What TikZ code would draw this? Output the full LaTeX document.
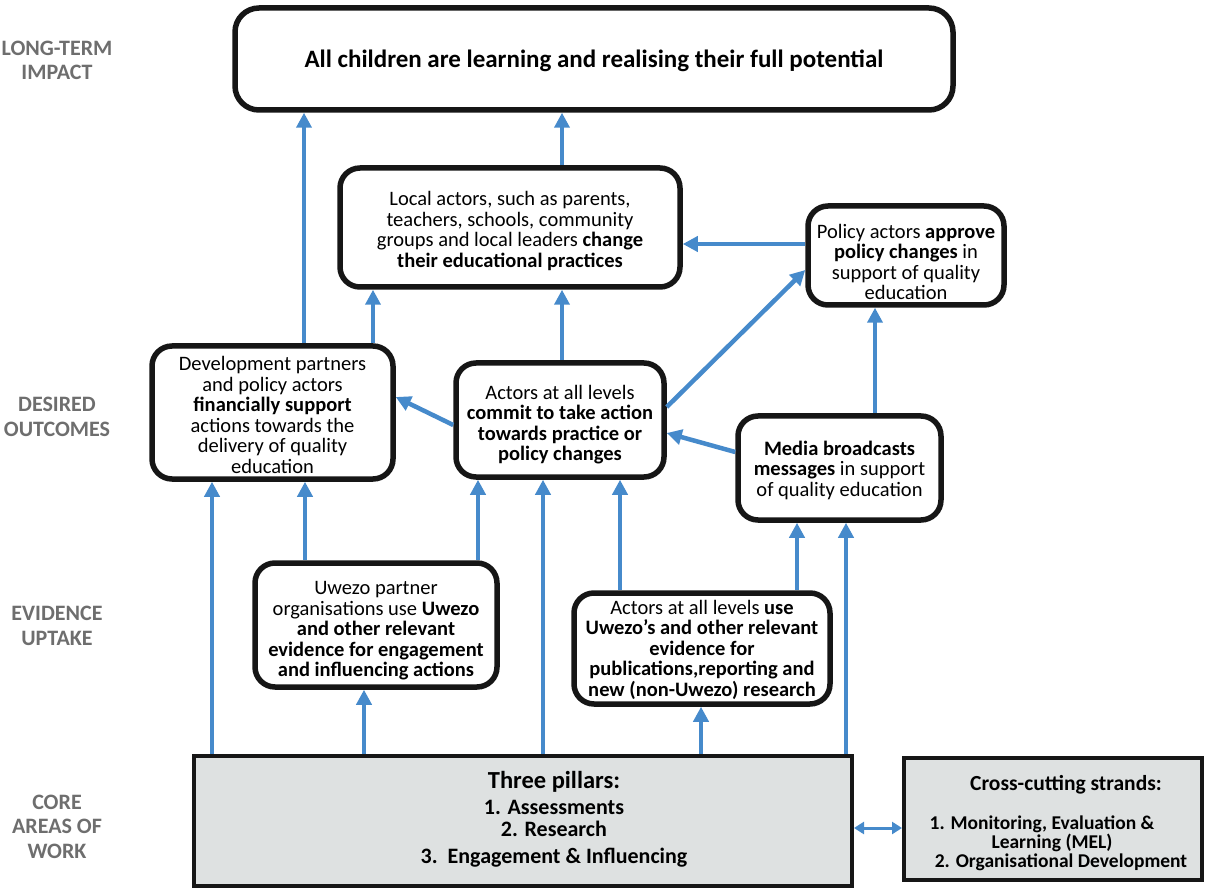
\documentclass[tikz,border=0pt]{standalone}
\usepackage{fontspec}
\setmainfont{Carlito}
\usetikzlibrary{arrows.meta}
\definecolor{arrblue}{RGB}{70,138,203}
\definecolor{pillarfill}{RGB}{222,225,225}
\definecolor{labelgray}{RGB}{110,110,110}
\definecolor{boxline}{RGB}{22,22,22}
% invisible strut on a first line: pushes the text block down by about #1 pt
\newcommand{\topgap}[1]{\rule{0pt}{\dimexpr 15pt+#1pt*2\relax}}
\begin{document}
\begin{tikzpicture}[x=1pt,y=-1pt,
  rbox/.style={draw=boxline, line width=5.5pt, rounded corners=20pt, fill=white, align=center, inner sep=0pt, font=\fontsize{20.5}{20.5}\selectfont},
  sqbox/.style={draw=boxline, line width=4pt, fill=pillarfill, inner sep=0pt},
  lvl/.style={text=labelgray, font=\fontsize{22}{24.5}\selectfont\bfseries, align=center, anchor=base},
  arr/.style={draw=arrblue, line width=4.5pt, -{Triangle[width=15pt,length=15pt]}},
  dblarr/.style={draw=arrblue, line width=3pt, {Triangle[width=12pt,length=10pt]}-{Triangle[width=12pt,length=10pt]}}
]
\useasboundingbox (0,0) rectangle (1205,890);

% level labels (anchored at the baseline of the last line)
\node[lvl] (lblimpact) at (57,80) {LONG-TERM\\IMPACT};
\node[lvl] (lbloutcomes) at (57,436) {DESIRED\\OUTCOMES};
\node[lvl] (lbluptake) at (57,645) {EVIDENCE\\UPTAKE};
\node[lvl] (lblcore) at (57,858) {CORE\\AREAS OF\\WORK};

% boxes
\node[rbox, rounded corners=24pt, minimum width=718pt, minimum height=102pt,
      font=\fontsize{25}{28}\selectfont\bfseries] (top) at (594,59)
  {\rule{0pt}{22pt}All children are learning and realising their full potential};

\node[rbox, minimum width=340pt, minimum height=119pt] (local) at (510,227.5)
  {\topgap{3}Local actors, such as parents,\\ teachers, schools, community\\ groups and local leaders \textbf{change}\\ \textbf{their educational practices}};

\node[rbox, minimum width=196pt, minimum height=99pt] (policy) at (906,255.5)
  {\topgap{6}Policy actors \textbf{approve}\\ \textbf{policy changes} in\\ support of quality\\ education};

\node[rbox, minimum width=241pt, minimum height=133pt] (dev) at (272.5,412.5)
  {\topgap{2}Development partners\\ and policy actors\\ \textbf{financially support}\\ actions towards the\\ delivery of quality\\ education};

\node[rbox, minimum width=208pt, minimum height=114pt] (commit) at (560,420)
  {\topgap{4}Actors at all levels\\ \textbf{commit to take action}\\ \textbf{towards practice or}\\ \textbf{policy changes}};

\node[rbox, minimum width=203pt, minimum height=104pt] (media) at (839.5,468)
  {\topgap{2}\textbf{Media broadcasts}\\ \textbf{messages} in support\\ of quality education};

\node[rbox, minimum width=242pt, minimum height=124pt] (uwezo) at (376,625)
  {\topgap{5}Uwezo partner\\ organisations use \textbf{Uwezo}\\ \textbf{and other relevant}\\ \textbf{evidence for engagement}\\ \textbf{and influencing actions}};

\node[rbox, minimum width=256pt, minimum height=111pt] (actuse) at (702,648.5)
  {\topgap{1}Actors at all levels \textbf{use}\\ \textbf{Uwezo’s and other relevant}\\ \textbf{evidence for}\\ \textbf{publications,reporting and}\\ \textbf{new (non-Uwezo) research}};

\node[sqbox, minimum width=658pt, minimum height=130pt] (pillars) at (523,821) {};
\node[font=\fontsize{22}{22}\selectfont\bfseries, align=center, anchor=base, inner sep=0pt] (pillarstext) at (554,863)
  {{\fontsize{24.5}{22}\selectfont Three pillars:}\\[4pt] 1. Assessments\\ 2. Research\\[5pt] 3.\ \ Engagement \& Influencing};

\node[sqbox, minimum width=298pt, minimum height=122pt] (cross) at (1053,819) {};
\node[font=\fontsize{19.5}{19}\selectfont\bfseries, align=center, anchor=base, inner sep=0pt] (crosstext) at (1052,867)
  {{\fontsize{21.5}{19}\selectfont\hspace*{28pt}Cross-cutting strands:}\\[20pt]
   \hspace*{-20pt}1. Monitoring, Evaluation \&\\ Learning (MEL)\\ \hspace*{18pt}2. Organisational Development};

% connectors
\draw[arr] ([xshift=31.5pt]dev.north) coordinate (t) -- (t |- top.south);
\draw[arr] ([xshift=52pt]local.north) coordinate (t) -- (t |- top.south);
\draw[arr] ([xshift=100.5pt]dev.north) coordinate (t) -- (t |- local.south);
\draw[arr] ([xshift=2pt]commit.north) coordinate (t) -- (t |- local.south);
\draw[arr] ([yshift=11.5pt]policy.west) coordinate (t) -- (t -| local.east);
\draw[arr] ([yshift=13pt]commit.east) -- ([yshift=-14.5pt]policy.west);
\draw[arr] ([xshift=35.5pt]media.north) coordinate (t) -- (t |- policy.south);
\draw[arr] ([yshift=-5pt]commit.west) -- ([yshift=15.5pt]dev.east);
\draw[arr] ([yshift=16pt]media.west) -- ([yshift=-13pt]commit.east);

\draw[arr] ([xshift=-311pt]pillars.north) coordinate (t) -- (t |- dev.south);
\draw[arr] ([xshift=-71pt]uwezo.north) coordinate (t) -- (t |- dev.south);
\draw[arr] ([xshift=102pt]uwezo.north) coordinate (t) -- (t |- commit.south);
\draw[arr] ([xshift=20pt]pillars.north) coordinate (t) -- (t |- commit.south);
\draw[arr] ([xshift=-82pt]actuse.north) coordinate (t) -- (t |- commit.south);
\draw[arr] ([xshift=95pt]actuse.north) coordinate (t) -- (t |- media.south);
\draw[arr] ([xshift=323pt]pillars.north) coordinate (t) -- (t |- media.south);
\draw[arr] ([xshift=-159pt]pillars.north) coordinate (t) -- (t |- uwezo.south);
\draw[arr] ([xshift=178pt]pillars.north) coordinate (t) -- (t |- actuse.south);
\draw[dblarr] ([yshift=-7pt]pillars.east) coordinate (t) -- (t -| cross.west);
\end{tikzpicture}
\end{document}
